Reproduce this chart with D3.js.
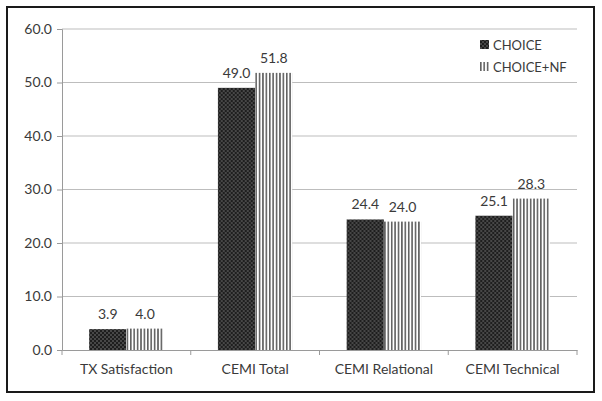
<!DOCTYPE html>
<html><head><meta charset="utf-8">
<script src="https://cdn.jsdelivr.net/npm/d3@7"></script>
<style>body{margin:0;background:#fff}svg{display:block}text{font-family:Lato,"Open Sans",sans-serif;fill:#3a3a3a}</style>
</head><body>
<script>
const categories = ["TX Satisfaction","CEMI Total","CEMI Relational","CEMI Technical"];
const seriesNames = ["CHOICE","CHOICE+NF"];
const choice = [3.9, 49.0, 24.4, 25.1];
const choiceNF = [4.0, 51.8, 24.0, 28.3];
const yTicks = [0,10,20,30,40,50,60];

const W=602,H=401;
const svg=d3.select("body").append("svg").attr("width",W).attr("height",H);
const defs=svg.append("defs");
const p1=defs.append("pattern").attr("id","dots").attr("patternUnits","userSpaceOnUse").attr("width",4).attr("height",4);
p1.append("rect").attr("width",4).attr("height",4).attr("fill","#474747");
p1.append("rect").attr("width",2).attr("height",2).attr("fill","#1e1e1e");
p1.append("rect").attr("x",2).attr("y",2).attr("width",2).attr("height",2).attr("fill","#1e1e1e");
const p2=defs.append("pattern").attr("id","stripes").attr("patternUnits","userSpaceOnUse").attr("width",3.4).attr("height",4);
p2.append("rect").attr("width",3.4).attr("height",4).attr("fill","#fff");
p2.append("rect").attr("width",1.6).attr("height",4).attr("fill","#606060");
const fills=["url(#dots)","url(#stripes)"];

svg.append("rect").attr("x",7).attr("y",7).attr("width",587).attr("height",385).attr("fill","none").attr("stroke","#1a1a1a").attr("stroke-width",2);

const m={l:62,r:577,t:29,b:350};
const y=d3.scaleLinear().domain([0,60]).range([m.b,m.t]);
const x=d3.scaleBand().domain(categories).range([m.l,m.r]).paddingInner(0).paddingOuter(0);
const x1=d3.scaleBand().domain(seriesNames).range([0,x.bandwidth()]).paddingOuter(0.73).paddingInner(0);

svg.append("g").selectAll("line").data(yTicks.filter(d=>d>0)).join("line")
  .attr("x1",m.l).attr("x2",m.r).attr("y1",d=>y(d)).attr("y2",d=>y(d)).attr("stroke","#bdbdbd").attr("stroke-width",1);

const yAxis=d3.axisLeft(y).tickValues(yTicks).tickFormat(d3.format(".1f")).tickSize(5).tickPadding(5);
const gy=svg.append("g").attr("transform",`translate(${m.l},0)`).call(yAxis);
gy.select(".domain").attr("stroke","#9a9a9a");
gy.selectAll(".tick line").attr("stroke","#9a9a9a");
gy.selectAll("text").style("font-size","14px").attr("fill","#3a3a3a");

const data=categories.map((c,i)=>({c,v:[choice[i],choiceNF[i]]}));
const g=svg.append("g").selectAll("g").data(data).join("g").attr("transform",d=>`translate(${x(d.c)},0)`);
g.selectAll("rect").data(d=>d.v.map((v,j)=>({s:seriesNames[j],v,j}))).join("rect")
  .attr("x",d=>x1(d.s)).attr("width",x1.bandwidth()).attr("y",d=>y(d.v)).attr("height",d=>y(0)-y(d.v)).attr("fill",d=>fills[d.j]);
g.selectAll("text").data(d=>d.v.map((v,j)=>({s:seriesNames[j],v,j}))).join("text")
  .attr("x",d=>x1(d.s)+x1.bandwidth()/2).attr("y",d=>y(d.v)-10).attr("text-anchor","middle")
  .style("font-size","14px").text(d=>d3.format(".1f")(d.v));

const xAxis=d3.axisBottom(x).tickSize(0).tickPadding(14);
const gx=svg.append("g").attr("transform",`translate(0,${m.b})`).call(xAxis);
gx.select(".domain").attr("stroke","#9a9a9a");
gx.selectAll("text").style("font-size","14px").attr("fill","#3a3a3a");
gx.append("g").selectAll("line").data(d3.range(categories.length+1)).join("line")
  .attr("x1",i=>m.l+i*x.bandwidth()).attr("x2",i=>m.l+i*x.bandwidth()).attr("y1",0).attr("y2",5).attr("stroke","#9a9a9a");

const lg=svg.append("g").selectAll("g").data(seriesNames).join("g").attr("transform",(d,i)=>`translate(480,${45+i*22})`);
lg.append("rect").attr("x",0).attr("y",-5).attr("width",9).attr("height",9).attr("fill",(d,i)=>fills[i]);
lg.append("text").attr("x",13).attr("y",5).style("font-size","13px").text(d=>d);
</script>
</body></html>
